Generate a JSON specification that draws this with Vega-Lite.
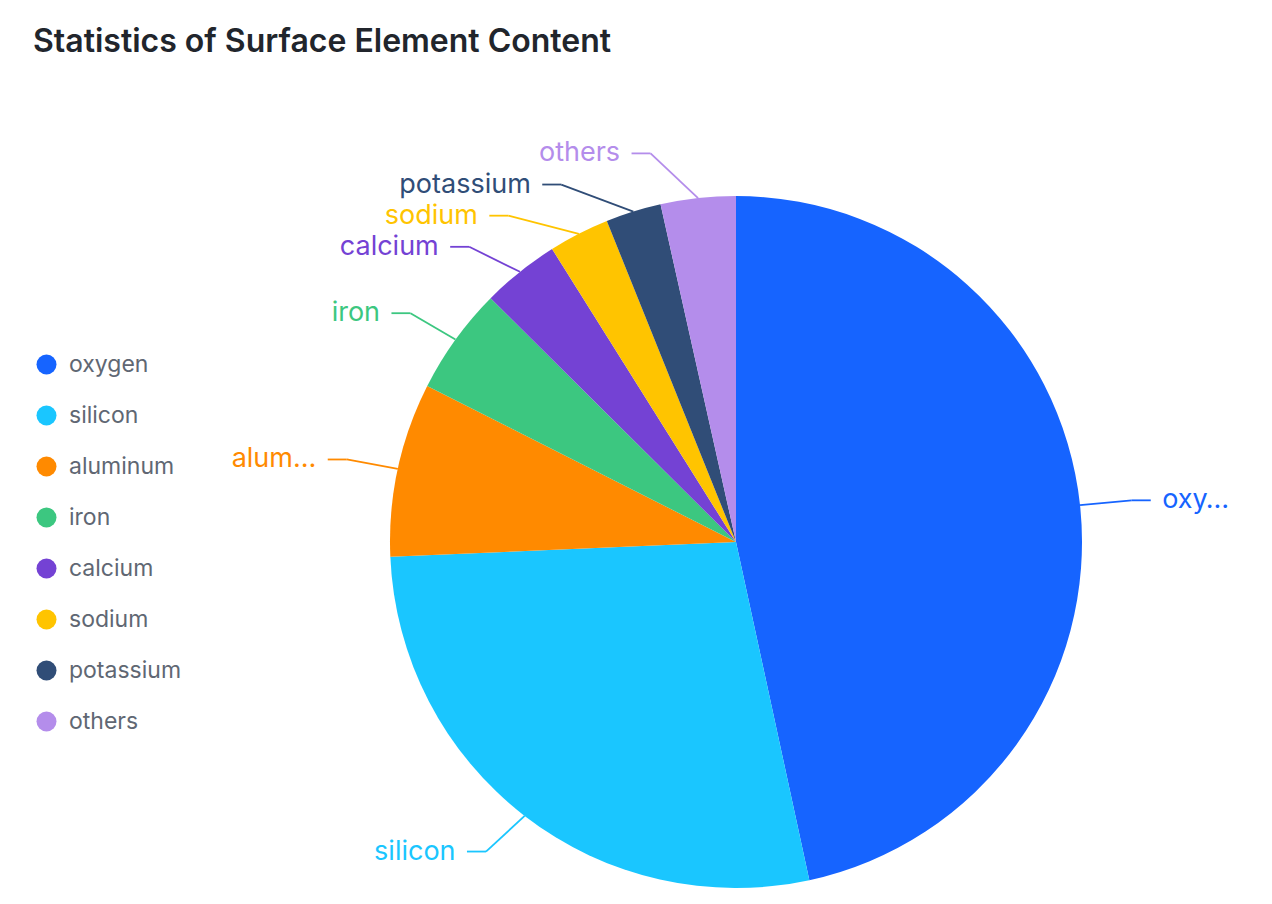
{
  "$schema": "https://vega.github.io/schema/vega-lite/v6.json",
  "width": 1272,
  "height": 824,
  "autosize": {"type": "none"},
  "padding": {"top": 80, "left": 0, "right": 0, "bottom": 0},
  "background": "white",
  "config": {"view": {"stroke": null}},
  "title": {
    "text": "Statistics of Surface Element Content",
    "anchor": "start",
    "frame": "group",
    "dx": 33,
    "offset": 21,
    "fontSize": 32,
    "fontWeight": 600,
    "font": "Inter",
    "color": "#21252C"
  },
  "data": {
    "values": [
      {"name": "oxygen", "value": 46.6},
      {"name": "silicon", "value": 27.72},
      {"name": "aluminum", "value": 8.13},
      {"name": "iron", "value": 5},
      {"name": "calcium", "value": 3.63},
      {"name": "sodium", "value": 2.83},
      {"name": "potassium", "value": 2.59},
      {"name": "others", "value": 3.5}
    ]
  },
  "transform": [
    {"window": [{"op": "sum", "field": "value", "as": "cum"}], "frame": [null, 0]},
    {"joinaggregate": [{"op": "sum", "field": "value", "as": "total"}]},
    {"calculate": "(datum.cum - datum.value / 2) / datum.total * 2 * PI", "as": "mid"},
    {"calculate": "sin(datum.mid)", "as": "x0"},
    {"calculate": "cos(datum.mid)", "as": "y0"},
    {"calculate": "datum.x0 >= 0 ? 1 : -1", "as": "side"},
    {"calculate": "1.13 * datum.y0", "as": "yr"},
    {"window": [{"op": "row_number", "as": "k"}], "groupby": ["side"], "sort": [{"field": "yr", "order": "descending"}]},
    {"calculate": "datum.yr + datum.k * 0.09", "as": "t"},
    {"window": [{"op": "min", "field": "t", "as": "m"}], "groupby": ["side"], "sort": [{"field": "yr", "order": "descending"}], "frame": [null, 0]},
    {"calculate": "datum.m - datum.k * 0.09", "as": "ye"},
    {"calculate": "datum.side * sqrt(max(0, 1.3225 - datum.ye * datum.ye))", "as": "xe"},
    {"calculate": "datum.xe + datum.side * 0.055", "as": "xh"},
    {"calculate": "datum.xe + datum.side * 0.088", "as": "xt"}
  ],
  "layer": [
    {
      "mark": {"type": "arc", "radius": 346, "stroke": null},
      "encoding": {
        "theta": {"field": "value", "type": "quantitative", "stack": true},
        "order": {"field": "cum", "type": "quantitative"},
        "x": {"datum": 0, "type": "quantitative", "scale": {"domain": [-2.1272, 1.5491], "nice": false, "zero": false}, "axis": null},
        "y": {"datum": 0, "type": "quantitative", "scale": {"domain": [-1.0462, 1.3353], "nice": false, "zero": false}, "axis": null},
        "color": {
          "field": "name",
          "type": "nominal",
          "sort": null,
          "scale": {
            "domain": ["oxygen", "silicon", "aluminum", "iron", "calcium", "sodium", "potassium", "others"],
            "range": ["#1664FF", "#1AC6FF", "#FF8A00", "#3CC780", "#7442D4", "#FFC400", "#304D77", "#B48DEB"]
          },
          "legend": {
            "orient": "none",
            "legendX": 35,
            "legendY": 273,
            "title": null,
            "symbolType": "circle",
            "symbolSize": 400,
            "symbolStrokeWidth": 0,
            "labelFontSize": 23,
            "labelFont": "Inter",
            "labelColor": "#606773",
            "rowPadding": 27,
            "labelOffset": 11,
            "padding": 0
          }
        },
        "tooltip": [
          {"field": "name", "type": "nominal"},
          {"field": "value", "type": "quantitative", "format": ".2f"}
        ]
      }
    },
    {
      "mark": {"type": "rule", "strokeWidth": 1.8},
      "encoding": {
        "x": {"field": "x0", "type": "quantitative", "scale": {"domain": [-2.1272, 1.5491], "nice": false, "zero": false}, "axis": null},
        "y": {"field": "y0", "type": "quantitative", "scale": {"domain": [-1.0462, 1.3353], "nice": false, "zero": false}, "axis": null},
        "x2": {"field": "xe"},
        "y2": {"field": "ye"},
        "color": {"field": "name", "type": "nominal", "sort": null, "legend": null}
      }
    },
    {
      "mark": {"type": "rule", "strokeWidth": 1.8},
      "encoding": {
        "x": {"field": "xe", "type": "quantitative", "axis": null},
        "y": {"field": "ye", "type": "quantitative", "axis": null},
        "x2": {"field": "xh"},
        "color": {"field": "name", "type": "nominal", "sort": null, "legend": null}
      }
    },
    {
      "transform": [{"filter": "datum.name === 'oxygen'"}],
      "mark": {"type": "text", "align": "left", "baseline": "middle", "fontSize": 27, "font": "Inter", "limit": 70},
      "encoding": {
        "x": {"field": "xt", "type": "quantitative", "axis": null},
        "y": {"field": "ye", "type": "quantitative", "axis": null},
        "text": {"field": "name"},
        "color": {"field": "name", "type": "nominal", "sort": null, "legend": null}
      }
    },
    {
      "transform": [{"filter": "datum.name === 'aluminum'"}],
      "mark": {"type": "text", "align": "right", "baseline": "middle", "fontSize": 27, "font": "Inter", "limit": 88},
      "encoding": {
        "x": {"field": "xt", "type": "quantitative", "axis": null},
        "y": {"field": "ye", "type": "quantitative", "axis": null},
        "text": {"field": "name"},
        "color": {"field": "name", "type": "nominal", "sort": null, "legend": null}
      }
    },
    {
      "transform": [{"filter": "datum.side < 0 && datum.name !== 'aluminum'"}],
      "mark": {"type": "text", "align": "right", "baseline": "middle", "fontSize": 27, "font": "Inter"},
      "encoding": {
        "x": {"field": "xt", "type": "quantitative", "axis": null},
        "y": {"field": "ye", "type": "quantitative", "axis": null},
        "text": {"field": "name"},
        "color": {"field": "name", "type": "nominal", "sort": null, "legend": null}
      }
    }
  ]
}
